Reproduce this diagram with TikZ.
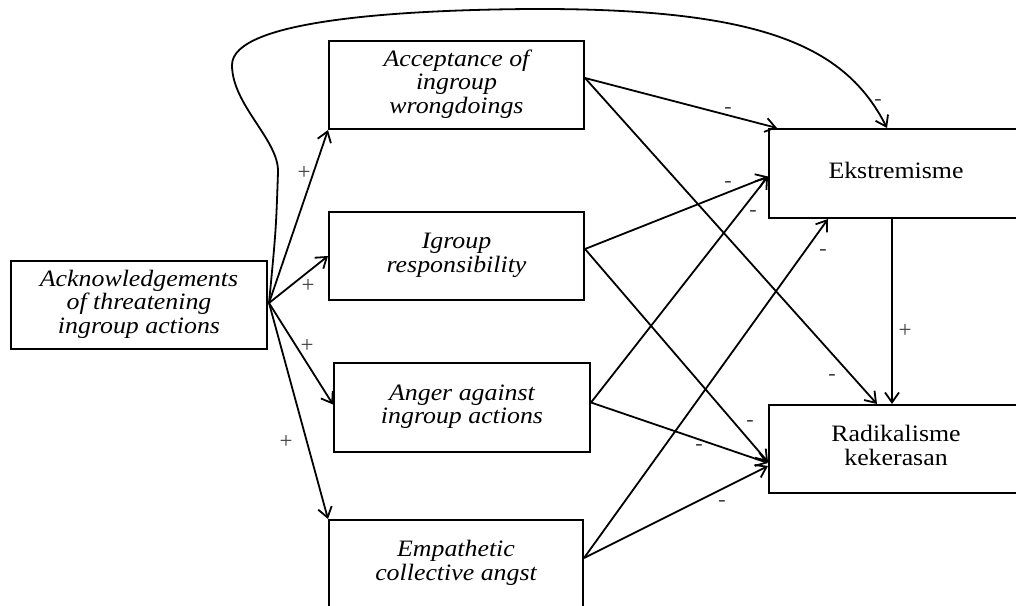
\documentclass[tikz,border=0pt]{standalone}
\usepackage{fontspec}
\setmainfont{Liberation Serif}
\usepackage{graphicx}
\usetikzlibrary{arrows.meta,calc}
\newcommand{\wtxt}[1]{\scalebox{1.1}[1]{\begin{tabular}{@{}c@{}}#1\end{tabular}}}
\tikzset{
  box/.style={draw, line width=2pt, inner sep=0pt, minimum height=88pt,
    font=\fontsize{23.5}{23.5}\selectfont},
  conn/.style={line width=1.8pt, -{Straight Barb[length=10pt,width=14pt,line width=1.8pt]}},
  sign/.style={font=\fontsize{22}{22}\selectfont, text=black!75, inner sep=0pt},
  plus/.style={font=\fontsize{23}{23}\selectfont, text=black!75, inner sep=0pt}
}
\begin{document}
\begin{tikzpicture}[x=1pt,y=-1pt]
\useasboundingbox (0,0) rectangle (1016,605);
\clip (0,0) rectangle (1016,605);
% boxes
\node[box, minimum width=256pt] (ack) at (139,305) {\wtxt{\itshape Acknowledgements\\\itshape of threatening\\\itshape ingroup actions}};
\node[box, minimum width=255pt] (acc) at (456.5,85) {\wtxt{\itshape Acceptance of\\\itshape ingroup\\\itshape wrongdoings}};
\node[box, minimum width=255pt] (igr) at (456.5,256) {\wtxt{\itshape Igroup\\\itshape responsibility}};
\node[box, minimum width=256pt, minimum height=89pt] (ang) at (462,407.5) {\wtxt{\itshape Anger against\\\itshape ingroup actions}};
\node[box, minimum width=254pt] (emp) at (456,564) {\wtxt{\itshape Empathetic\\\itshape collective angst}};
\node[box, minimum width=254pt, minimum height=89pt] (eks) at (896,173.5) {\wtxt{Ekstremisme}};
\node[box, minimum width=254pt] (rad) at (896,449) {\wtxt{Radikalisme\\kekerasan}};
% connection points
\coordinate (ackO) at ($(ack.east)+(1,-2)$);
\coordinate (accO) at ($(acc.east)+(0,-7)$);
\coordinate (igrO) at ($(igr.east)+(0,-7)$);
\coordinate (angO) at ($(ang.east)+(0,-5)$);
\coordinate (empO) at ($(emp.east)+(0,-6)$);
\coordinate (eksTL) at ($(eks.north west)+(9,0)$);
\coordinate (eksW) at ($(eks.west)+(0,3)$);
\coordinate (eksS) at ($(eks.south west)+(60,0)$);
\coordinate (eksTC) at ($(eks.north)+(-9,0)$);
\coordinate (eksB) at ($(eks.south)+(-4,0)$);
\coordinate (radT1) at ($(rad.north)+(-19,0)$);
\coordinate (radT2) at ($(rad.north)+(-4,0)$);
\coordinate (radW1) at ($(rad.west)+(0,13)$);
\coordinate (radW2) at ($(rad.west)+(0,14)$);
\coordinate (radW3) at ($(rad.west)+(0,17)$);
\coordinate (angW) at ($(ang.west)+(0,-3)$);
% left fan
\draw[conn] (ackO) -- (acc.south west);
\draw[conn] (ackO) -- (igr.west);
\draw[conn] (ackO) -- (angW);
\draw[conn] (ackO) -- (emp.north west);
% long curve
\draw[conn] (ackO) .. controls (276,230) .. (278,172)
  .. controls (279,140) and (232,105) .. (232,65)
  .. controls (232,20) and (400,10) .. (530,9)
  .. controls (760,8) and (845,45) .. (eksTC);
% right side
\draw[conn] (accO) -- (eksTL);
\draw[conn] (accO) -- (radT1);
\draw[conn] (igrO) -- (eksW);
\draw[conn] (igrO) -- (radW1);
\draw[conn] (angO) -- (eksW);
\draw[conn] (angO) -- (radW2);
\draw[conn] (empO) -- (eksS);
\draw[conn] (empO) -- (radW3);
\draw[conn] (eksB) -- (radT2);
% signs
\node[plus] (p1) at (304,173) {+};
\node[plus] (p2) at (308,286) {+};
\node[plus] (p3) at (307,346) {+};
\node[plus] (p4) at (286,442) {+};
\node[plus] (p5) at (905,331) {+};
\node[sign] (m1) at (728,110) {-};
\node[sign] (m2) at (832,377) {-};
\node[sign] (m3) at (728,184) {-};
\node[sign] (m4) at (750,423) {-};
\node[sign] (m5) at (753,213) {-};
\node[sign] (m6) at (699,447) {-};
\node[sign] (m7) at (823,252) {-};
\node[sign] (m8) at (722,503) {-};
\node[sign] (m9) at (878,102) {-};
\end{tikzpicture}
\end{document}
